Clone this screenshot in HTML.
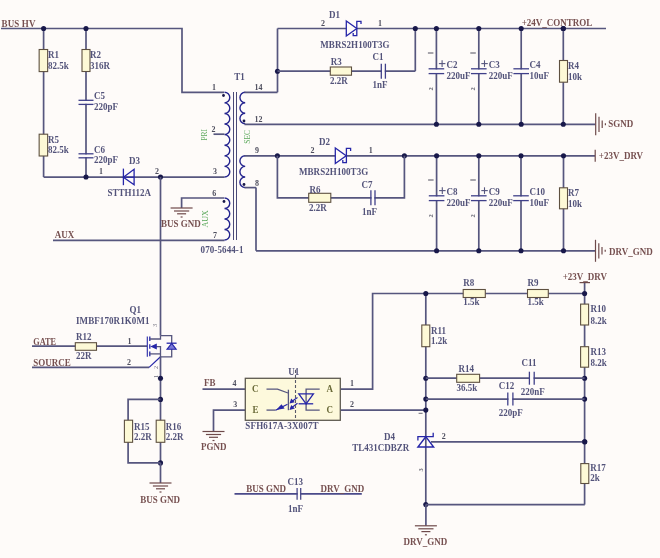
<!DOCTYPE html>
<html><head><meta charset="utf-8"><style>
html,body{margin:0;padding:0;background:#fefbf9;}
svg{display:block;font-family:"Liberation Serif",serif;font-weight:bold;filter:blur(0.5px);}
</style></head><body>
<svg width="660" height="558" viewBox="0 0 660 558">
<rect width="660" height="558" fill="#fefbf9"/>
<text x="0" y="0" transform="translate(1.5,26.6) scale(1,1.07)" fill="#765050" font-size="9" text-anchor="start" textLength="34" lengthAdjust="spacing">BUS HV</text>
<polyline points="1,28.5 182,28.5 182,92.3 224,92.3" fill="none" stroke="#56567e" stroke-width="1.7"/>
<line x1="43.6" y1="28.5" x2="43.6" y2="177" stroke="#56567e" stroke-width="1.7"/>
<line x1="86" y1="28.5" x2="86" y2="177" stroke="#56567e" stroke-width="1.7"/>
<circle cx="43.6" cy="28.5" r="2.55" fill="#18184a"/>
<circle cx="86" cy="28.5" r="2.55" fill="#18184a"/>
<rect x="39.15" y="49.5" width="8.5" height="22.099999999999994" fill="#fdf9d6" stroke="#5e5040" stroke-width="1.1"/>
<text x="0" y="0" transform="translate(48,57.5) scale(1,1.07)" fill="#53537a" font-size="9" text-anchor="start" >R1</text>
<text x="0" y="0" transform="translate(48,69) scale(1,1.07)" fill="#53537a" font-size="9" text-anchor="start" >82.5k</text>
<rect x="82.0" y="49.5" width="8" height="22.0" fill="#fdf9d6" stroke="#5e5040" stroke-width="1.1"/>
<text x="0" y="0" transform="translate(90,57.5) scale(1,1.07)" fill="#53537a" font-size="9" text-anchor="start" >R2</text>
<text x="0" y="0" transform="translate(90,69) scale(1,1.07)" fill="#53537a" font-size="9" text-anchor="start" >316R</text>
<rect x="84" y="100.89999999999999" width="4" height="2.9000000000000083" fill="#fefbf9"/>
<line x1="78.5" y1="100.3" x2="93.5" y2="100.3" stroke="#40408a" stroke-width="1.3"/>
<line x1="78.5" y1="104.4" x2="93.5" y2="104.4" stroke="#40408a" stroke-width="1.3"/>
<text x="0" y="0" transform="translate(94,99) scale(1,1.07)" fill="#53537a" font-size="9" text-anchor="start" >C5</text>
<text x="0" y="0" transform="translate(94,109.5) scale(1,1.07)" fill="#53537a" font-size="9" text-anchor="start" >220pF</text>
<rect x="39.15" y="134.2" width="8.5" height="21.80000000000001" fill="#fdf9d6" stroke="#5e5040" stroke-width="1.1"/>
<text x="0" y="0" transform="translate(48,142.5) scale(1,1.07)" fill="#53537a" font-size="9" text-anchor="start" >R5</text>
<text x="0" y="0" transform="translate(48,153) scale(1,1.07)" fill="#53537a" font-size="9" text-anchor="start" >82.5k</text>
<rect x="84" y="154.4" width="4" height="2.8" fill="#fefbf9"/>
<line x1="78.5" y1="153.8" x2="93.5" y2="153.8" stroke="#40408a" stroke-width="1.3"/>
<line x1="78.5" y1="157.8" x2="93.5" y2="157.8" stroke="#40408a" stroke-width="1.3"/>
<text x="0" y="0" transform="translate(94,152.5) scale(1,1.07)" fill="#53537a" font-size="9" text-anchor="start" >C6</text>
<text x="0" y="0" transform="translate(94,163) scale(1,1.07)" fill="#53537a" font-size="9" text-anchor="start" >220pF</text>
<line x1="43.6" y1="177.1" x2="224.5" y2="177.1" stroke="#56567e" stroke-width="1.7"/>
<circle cx="86" cy="177" r="2.55" fill="#18184a"/>
<circle cx="160.5" cy="177" r="2.55" fill="#18184a"/>
<text x="0" y="0" transform="translate(99,174) scale(1,1.07)" fill="#4e4e5e" font-size="8" text-anchor="start" >1</text>
<text x="0" y="0" transform="translate(155,174) scale(1,1.07)" fill="#4e4e5e" font-size="8" text-anchor="start" >2</text>
<polygon points="123.4,177.2 134.1,169.3 134.1,184.7" fill="none" stroke="#2626a8" stroke-width="1.3"/>
<line x1="123.4" y1="168.6" x2="123.4" y2="185.2" stroke="#2626a8" stroke-width="1.3"/>
<line x1="123.4" y1="177.2" x2="134.1" y2="177.2" stroke="#2626a8" stroke-width="1.2"/>
<text x="0" y="0" transform="translate(129,164) scale(1,1.07)" fill="#53537a" font-size="9" text-anchor="start" >D3</text>
<text x="0" y="0" transform="translate(107.5,195.5) scale(1,1.07)" fill="#53537a" font-size="9" text-anchor="start" >STTH112A</text>
<line x1="160.5" y1="177" x2="160.5" y2="335.6" stroke="#56567e" stroke-width="1.7"/>
<text x="0" y="0" transform="translate(54.8,238.3) scale(1,1.07)" fill="#765050" font-size="9" text-anchor="start" >AUX</text>
<line x1="53" y1="240.4" x2="224.5" y2="240.4" stroke="#56567e" stroke-width="1.7"/>
<polyline points="224,198 181.6,198 181.6,208" fill="none" stroke="#56567e" stroke-width="1.7"/>
<line x1="170.6" y1="208" x2="192.6" y2="208" stroke="#6e4a4a" stroke-width="1.2"/>
<line x1="174.0" y1="211" x2="189.2" y2="211" stroke="#6e4a4a" stroke-width="1.2"/>
<line x1="177.1" y1="213.8" x2="186.1" y2="213.8" stroke="#6e4a4a" stroke-width="1.2"/>
<line x1="180.6" y1="217" x2="182.6" y2="217" stroke="#6e4a4a" stroke-width="1.2"/>
<text x="0" y="0" transform="translate(161,227.2) scale(1,1.07)" fill="#765050" font-size="9" text-anchor="start" >BUS GND</text>
<path d="M224.5,92.3 a5.29375,5.29375 0 0 1 0,10.5875 a5.29375,5.29375 0 0 1 0,10.5875 a5.29375,5.29375 0 0 1 0,10.5875 a5.29375,5.29375 0 0 1 0,10.5875 a5.29375,5.29375 0 0 1 0,10.5875 a5.29375,5.29375 0 0 1 0,10.5875 a5.29375,5.29375 0 0 1 0,10.5875 a5.29375,5.29375 0 0 1 0,10.5875 " fill="none" stroke="#24248e" stroke-width="1.4"/>
<path d="M245.2,92.3 a5.25,5.25 0 0 0 0,10.5 a5.25,5.25 0 0 0 0,10.5 a5.25,5.25 0 0 0 0,10.5 " fill="none" stroke="#24248e" stroke-width="1.4"/>
<path d="M245.2,155.8 a5.299999999999997,5.299999999999997 0 0 0 0,10.599999999999994 a5.299999999999997,5.299999999999997 0 0 0 0,10.599999999999994 a5.299999999999997,5.299999999999997 0 0 0 0,10.599999999999994 " fill="none" stroke="#24248e" stroke-width="1.4"/>
<path d="M224.5,198 a5.25,5.25 0 0 1 0,10.5 a5.25,5.25 0 0 1 0,10.5 a5.25,5.25 0 0 1 0,10.5 a5.25,5.25 0 0 1 0,10.5 " fill="none" stroke="#24248e" stroke-width="1.4"/>
<line x1="233.5" y1="92" x2="233.5" y2="240" stroke="#4a4a78" stroke-width="1"/>
<line x1="236.5" y1="92" x2="236.5" y2="240" stroke="#4a4a78" stroke-width="1"/>
<circle cx="223.5" cy="95.5" r="1.4" fill="#18184a"/>
<circle cx="244" cy="121" r="1.4" fill="#18184a"/>
<circle cx="244" cy="184.5" r="1.4" fill="#18184a"/>
<circle cx="224" cy="201.5" r="1.4" fill="#18184a"/>
<text x="0" y="0" transform="translate(212,90) scale(1,1.07)" fill="#4e4e5e" font-size="8" text-anchor="start" >1</text>
<text x="0" y="0" transform="translate(211.5,132) scale(1,1.07)" fill="#4e4e5e" font-size="8" text-anchor="start" >2</text>
<text x="0" y="0" transform="translate(213,174) scale(1,1.07)" fill="#4e4e5e" font-size="8" text-anchor="start" >3</text>
<text x="0" y="0" transform="translate(212.3,196) scale(1,1.07)" fill="#4e4e5e" font-size="8" text-anchor="start" >6</text>
<text x="0" y="0" transform="translate(213,237.5) scale(1,1.07)" fill="#4e4e5e" font-size="8" text-anchor="start" >7</text>
<text x="0" y="0" transform="translate(254.5,89.5) scale(1,1.07)" fill="#4e4e5e" font-size="8" text-anchor="start" >14</text>
<text x="0" y="0" transform="translate(254.5,122) scale(1,1.07)" fill="#4e4e5e" font-size="8" text-anchor="start" >12</text>
<text x="0" y="0" transform="translate(255,152.5) scale(1,1.07)" fill="#4e4e5e" font-size="8" text-anchor="start" >9</text>
<text x="0" y="0" transform="translate(255,185.6) scale(1,1.07)" fill="#4e4e5e" font-size="8" text-anchor="start" >8</text>
<line x1="213.5" y1="134.2" x2="224.5" y2="134.2" stroke="#56567e" stroke-width="1.7"/>
<text x="0" y="0" transform="translate(234.2,80) scale(1,1.07)" fill="#53537a" font-size="9" text-anchor="start" >T1</text>
<text x="0" y="0" transform="translate(200.6,252.6) scale(1,1.07)" fill="#53537a" font-size="9" text-anchor="start" textLength="42.8" lengthAdjust="spacing">070-5644-1</text>
<text x="0" y="0" fill="#5aa85a" font-size="7.5" font-weight="normal" transform="translate(207,140.6) rotate(-90)">PRI</text>
<text x="0" y="0" fill="#5aa85a" font-size="7.5" font-weight="normal" transform="translate(249.6,143.7) rotate(-90)">SEC</text>
<text x="0" y="0" fill="#5aa85a" font-size="8" font-weight="normal" transform="translate(208.4,227.5) rotate(-90)">AUX</text>
<line x1="244.5" y1="92.3" x2="277.5" y2="92.3" stroke="#56567e" stroke-width="1.7"/>
<line x1="277.5" y1="28.5" x2="277.5" y2="92.3" stroke="#56567e" stroke-width="1.7"/>
<line x1="277.5" y1="28.5" x2="606" y2="28.5" stroke="#56567e" stroke-width="1.7"/>
<circle cx="277.5" cy="71.2" r="2.55" fill="#18184a"/>
<line x1="277.5" y1="71.2" x2="415.3" y2="71.2" stroke="#56567e" stroke-width="1.7"/>
<line x1="415.3" y1="28.5" x2="415.3" y2="71.2" stroke="#56567e" stroke-width="1.7"/>
<circle cx="415.3" cy="28.5" r="2.55" fill="#18184a"/>
<polygon points="346.3,21 346.3,36 356.8,28.5" fill="#fefbf9" stroke="#2626a8" stroke-width="1.3"/>
<polyline points="361,24 361,21.3 356.8,21.3 356.8,35.7 353.2,35.7 353.2,33" fill="none" stroke="#2626a8" stroke-width="1.3"/>
<text x="0" y="0" transform="translate(329,17.5) scale(1,1.07)" fill="#53537a" font-size="9" text-anchor="start" >D1</text>
<text x="0" y="0" transform="translate(321,26) scale(1,1.07)" fill="#4e4e5e" font-size="8" text-anchor="start" >2</text>
<text x="0" y="0" transform="translate(378,26) scale(1,1.07)" fill="#4e4e5e" font-size="8" text-anchor="start" >1</text>
<text x="0" y="0" transform="translate(320.3,47.6) scale(1,1.07)" fill="#53537a" font-size="9" text-anchor="start" textLength="69.2" lengthAdjust="spacing">MBRS2H100T3G</text>
<rect x="330.3" y="67.0" width="21.19999999999999" height="8.2" fill="#fdf9d6" stroke="#5e5040" stroke-width="1.1"/>
<text x="0" y="0" transform="translate(330.7,64.5) scale(1,1.07)" fill="#53537a" font-size="9" text-anchor="start" >R3</text>
<text x="0" y="0" transform="translate(330,83.8) scale(1,1.07)" fill="#53537a" font-size="9" text-anchor="start" >2.2R</text>
<rect x="381.90000000000003" y="69.2" width="2.8999999999999657" height="4" fill="#fefbf9"/>
<line x1="381.3" y1="63.7" x2="381.3" y2="78.7" stroke="#40408a" stroke-width="1.3"/>
<line x1="385.4" y1="63.7" x2="385.4" y2="78.7" stroke="#40408a" stroke-width="1.3"/>
<text x="0" y="0" transform="translate(372.5,60.3) scale(1,1.07)" fill="#53537a" font-size="9" text-anchor="start" >C1</text>
<text x="0" y="0" transform="translate(372.6,87.8) scale(1,1.07)" fill="#53537a" font-size="9" text-anchor="start" >1nF</text>
<line x1="244.5" y1="124.3" x2="595.5" y2="124.3" stroke="#56567e" stroke-width="1.7"/>
<line x1="436.4" y1="28.5" x2="436.4" y2="124.3" stroke="#56567e" stroke-width="1.7"/>
<circle cx="436.4" cy="28.5" r="2.55" fill="#18184a"/>
<circle cx="436.4" cy="124.3" r="2.55" fill="#18184a"/>
<line x1="478.8" y1="28.5" x2="478.8" y2="124.3" stroke="#56567e" stroke-width="1.7"/>
<circle cx="478.8" cy="28.5" r="2.55" fill="#18184a"/>
<circle cx="478.8" cy="124.3" r="2.55" fill="#18184a"/>
<line x1="521.2" y1="28.5" x2="521.2" y2="124.3" stroke="#56567e" stroke-width="1.7"/>
<circle cx="521.2" cy="28.5" r="2.55" fill="#18184a"/>
<circle cx="521.2" cy="124.3" r="2.55" fill="#18184a"/>
<line x1="563.3" y1="28.5" x2="563.3" y2="124.3" stroke="#56567e" stroke-width="1.7"/>
<circle cx="563.3" cy="28.5" r="2.55" fill="#18184a"/>
<circle cx="563.3" cy="124.3" r="2.55" fill="#18184a"/>
<circle cx="563.3" cy="28.5" r="2.55" fill="#18184a"/>
<text x="0" y="0" transform="translate(521.7,26.2) scale(1,1.07)" fill="#765050" font-size="9" text-anchor="start" >+24V_CONTROL</text>
<rect x="434.4" y="69.39999999999999" width="4" height="3.599999999999997" fill="#fefbf9"/>
<line x1="428.59999999999997" y1="68.8" x2="444.2" y2="68.8" stroke="#40408a" stroke-width="1.3"/>
<line x1="428.59999999999997" y1="73.6" x2="444.2" y2="73.6" stroke="#40408a" stroke-width="1.3"/>
<line x1="438.9" y1="63.6" x2="445.4" y2="63.6" stroke="#56567e" stroke-width="1.1"/>
<line x1="442.09999999999997" y1="60.3" x2="442.09999999999997" y2="66.9" stroke="#56567e" stroke-width="1.1"/>
<text x="0" y="0" transform="translate(446.4,68.2) scale(1,1.07)" fill="#53537a" font-size="9" text-anchor="start" >C2</text>
<text x="0" y="0" transform="translate(446.4,78.6) scale(1,1.07)" fill="#53537a" font-size="9" text-anchor="start" >220uF</text>
<line x1="427.9" y1="53" x2="433.4" y2="53" stroke="#6c6c78" stroke-width="1.2"/>
<text x="432.9" y="90.5" fill="#6c6c78" font-size="6.5" text-anchor="start" transform="rotate(-90 432.9 90.5)">2</text>
<rect x="476.8" y="69.39999999999999" width="4" height="3.599999999999997" fill="#fefbf9"/>
<line x1="471.0" y1="68.8" x2="486.6" y2="68.8" stroke="#40408a" stroke-width="1.3"/>
<line x1="471.0" y1="73.6" x2="486.6" y2="73.6" stroke="#40408a" stroke-width="1.3"/>
<line x1="481.3" y1="63.6" x2="487.8" y2="63.6" stroke="#56567e" stroke-width="1.1"/>
<line x1="484.5" y1="60.3" x2="484.5" y2="66.9" stroke="#56567e" stroke-width="1.1"/>
<text x="0" y="0" transform="translate(488.8,68.2) scale(1,1.07)" fill="#53537a" font-size="9" text-anchor="start" >C3</text>
<text x="0" y="0" transform="translate(488.8,78.6) scale(1,1.07)" fill="#53537a" font-size="9" text-anchor="start" >220uF</text>
<line x1="470.3" y1="53" x2="475.8" y2="53" stroke="#6c6c78" stroke-width="1.2"/>
<text x="475.3" y="90.5" fill="#6c6c78" font-size="6.5" text-anchor="start" transform="rotate(-90 475.3 90.5)">2</text>
<rect x="519.2" y="69.39999999999999" width="4" height="3.599999999999997" fill="#fefbf9"/>
<line x1="513.4000000000001" y1="68.8" x2="529.0" y2="68.8" stroke="#40408a" stroke-width="1.3"/>
<line x1="513.4000000000001" y1="73.6" x2="529.0" y2="73.6" stroke="#40408a" stroke-width="1.3"/>
<text x="0" y="0" transform="translate(529.5,68.2) scale(1,1.07)" fill="#53537a" font-size="9" text-anchor="start" >C4</text>
<text x="0" y="0" transform="translate(529.5,78.6) scale(1,1.07)" fill="#53537a" font-size="9" text-anchor="start" >10uF</text>
<rect x="559.5" y="60.5" width="8" height="21.700000000000003" fill="#fdf9d6" stroke="#5e5040" stroke-width="1.1"/>
<text x="0" y="0" transform="translate(568,68.8) scale(1,1.07)" fill="#53537a" font-size="9" text-anchor="start" >R4</text>
<text x="0" y="0" transform="translate(568,79.8) scale(1,1.07)" fill="#53537a" font-size="9" text-anchor="start" >10k</text>
<line x1="595.7" y1="113.3" x2="595.7" y2="135.3" stroke="#6e4a4a" stroke-width="1.2"/>
<line x1="599.0" y1="116.7" x2="599.0" y2="131.9" stroke="#6e4a4a" stroke-width="1.2"/>
<line x1="602.2" y1="120.5" x2="602.2" y2="128.1" stroke="#6e4a4a" stroke-width="1.2"/>
<line x1="605.4000000000001" y1="123.3" x2="605.4000000000001" y2="125.3" stroke="#6e4a4a" stroke-width="1.2"/>
<text x="0" y="0" transform="translate(608.2,127.3) scale(1,1.07)" fill="#765050" font-size="9" text-anchor="start" >SGND</text>
<line x1="244.5" y1="187.6" x2="256" y2="187.6" stroke="#56567e" stroke-width="1.7"/>
<line x1="256" y1="187.6" x2="256" y2="250.8" stroke="#56567e" stroke-width="1.7"/>
<line x1="256" y1="250.8" x2="595.5" y2="250.8" stroke="#56567e" stroke-width="1.7"/>
<line x1="244.5" y1="155.8" x2="595" y2="155.8" stroke="#56567e" stroke-width="1.7"/>
<circle cx="277.4" cy="155.8" r="2.55" fill="#18184a"/>
<circle cx="404.4" cy="155.8" r="2.55" fill="#18184a"/>
<polyline points="277.4,155.8 277.4,197.8 404.4,197.8 404.4,155.8" fill="none" stroke="#56567e" stroke-width="1.7"/>
<polygon points="335.3,148 335.3,163.5 346.2,155.8" fill="#fefbf9" stroke="#2626a8" stroke-width="1.3"/>
<polyline points="350.6,151 350.6,148.3 346.4,148.3 346.4,162.7 342.8,162.7 342.8,160" fill="none" stroke="#2626a8" stroke-width="1.3"/>
<text x="0" y="0" transform="translate(319,144.6) scale(1,1.07)" fill="#53537a" font-size="9" text-anchor="start" >D2</text>
<text x="0" y="0" transform="translate(310.4,152.8) scale(1,1.07)" fill="#4e4e5e" font-size="8" text-anchor="start" >2</text>
<text x="0" y="0" transform="translate(368.7,152.8) scale(1,1.07)" fill="#4e4e5e" font-size="8" text-anchor="start" >1</text>
<text x="0" y="0" transform="translate(298.9,174.6) scale(1,1.07)" fill="#53537a" font-size="9" text-anchor="start" textLength="69.4" lengthAdjust="spacing">MBRS2H100T3G</text>
<rect x="308.7" y="193.3" width="22.100000000000023" height="9" fill="#fdf9d6" stroke="#5e5040" stroke-width="1.1"/>
<text x="0" y="0" transform="translate(309.5,192.6) scale(1,1.07)" fill="#53537a" font-size="9" text-anchor="start" >R6</text>
<text x="0" y="0" transform="translate(309,210.8) scale(1,1.07)" fill="#53537a" font-size="9" text-anchor="start" >2.2R</text>
<rect x="371.5" y="195.8" width="2.9000000000000226" height="4" fill="#fefbf9"/>
<line x1="370.9" y1="190.3" x2="370.9" y2="205.3" stroke="#40408a" stroke-width="1.3"/>
<line x1="375" y1="190.3" x2="375" y2="205.3" stroke="#40408a" stroke-width="1.3"/>
<text x="0" y="0" transform="translate(361.4,188.4) scale(1,1.07)" fill="#53537a" font-size="9" text-anchor="start" >C7</text>
<text x="0" y="0" transform="translate(362,215) scale(1,1.07)" fill="#53537a" font-size="9" text-anchor="start" >1nF</text>
<line x1="436.6" y1="155.8" x2="436.6" y2="250.8" stroke="#56567e" stroke-width="1.7"/>
<circle cx="436.6" cy="155.8" r="2.55" fill="#18184a"/>
<circle cx="436.6" cy="250.8" r="2.55" fill="#18184a"/>
<line x1="478.8" y1="155.8" x2="478.8" y2="250.8" stroke="#56567e" stroke-width="1.7"/>
<circle cx="478.8" cy="155.8" r="2.55" fill="#18184a"/>
<circle cx="478.8" cy="250.8" r="2.55" fill="#18184a"/>
<line x1="521" y1="155.8" x2="521" y2="250.8" stroke="#56567e" stroke-width="1.7"/>
<circle cx="521" cy="155.8" r="2.55" fill="#18184a"/>
<circle cx="521" cy="250.8" r="2.55" fill="#18184a"/>
<line x1="563.5" y1="155.8" x2="563.5" y2="250.8" stroke="#56567e" stroke-width="1.7"/>
<circle cx="563.5" cy="155.8" r="2.55" fill="#18184a"/>
<circle cx="563.5" cy="250.8" r="2.55" fill="#18184a"/>
<rect x="434.6" y="196.4" width="4" height="3.5999999999999828" fill="#fefbf9"/>
<line x1="428.8" y1="195.8" x2="444.40000000000003" y2="195.8" stroke="#40408a" stroke-width="1.3"/>
<line x1="428.8" y1="200.6" x2="444.40000000000003" y2="200.6" stroke="#40408a" stroke-width="1.3"/>
<line x1="439.1" y1="190.6" x2="445.6" y2="190.6" stroke="#56567e" stroke-width="1.1"/>
<line x1="442.3" y1="187.3" x2="442.3" y2="193.9" stroke="#56567e" stroke-width="1.1"/>
<text x="0" y="0" transform="translate(446.6,195.2) scale(1,1.07)" fill="#53537a" font-size="9" text-anchor="start" >C8</text>
<text x="0" y="0" transform="translate(446.6,205.6) scale(1,1.07)" fill="#53537a" font-size="9" text-anchor="start" >220uF</text>
<line x1="428.1" y1="180" x2="433.6" y2="180" stroke="#6c6c78" stroke-width="1.2"/>
<text x="433.1" y="217.5" fill="#6c6c78" font-size="6.5" text-anchor="start" transform="rotate(-90 433.1 217.5)">2</text>
<rect x="476.8" y="196.4" width="4" height="3.5999999999999828" fill="#fefbf9"/>
<line x1="471.0" y1="195.8" x2="486.6" y2="195.8" stroke="#40408a" stroke-width="1.3"/>
<line x1="471.0" y1="200.6" x2="486.6" y2="200.6" stroke="#40408a" stroke-width="1.3"/>
<line x1="481.3" y1="190.6" x2="487.8" y2="190.6" stroke="#56567e" stroke-width="1.1"/>
<line x1="484.5" y1="187.3" x2="484.5" y2="193.9" stroke="#56567e" stroke-width="1.1"/>
<text x="0" y="0" transform="translate(488.8,195.2) scale(1,1.07)" fill="#53537a" font-size="9" text-anchor="start" >C9</text>
<text x="0" y="0" transform="translate(488.8,205.6) scale(1,1.07)" fill="#53537a" font-size="9" text-anchor="start" >220uF</text>
<line x1="470.3" y1="180" x2="475.8" y2="180" stroke="#6c6c78" stroke-width="1.2"/>
<text x="475.3" y="217.5" fill="#6c6c78" font-size="6.5" text-anchor="start" transform="rotate(-90 475.3 217.5)">2</text>
<rect x="519" y="196.4" width="4" height="3.5999999999999828" fill="#fefbf9"/>
<line x1="513.2" y1="195.8" x2="528.8" y2="195.8" stroke="#40408a" stroke-width="1.3"/>
<line x1="513.2" y1="200.6" x2="528.8" y2="200.6" stroke="#40408a" stroke-width="1.3"/>
<text x="0" y="0" transform="translate(529.5,195.2) scale(1,1.07)" fill="#53537a" font-size="9" text-anchor="start" >C10</text>
<text x="0" y="0" transform="translate(529.5,205.6) scale(1,1.07)" fill="#53537a" font-size="9" text-anchor="start" >10uF</text>
<rect x="559.5" y="187.8" width="8" height="21.0" fill="#fdf9d6" stroke="#5e5040" stroke-width="1.1"/>
<text x="0" y="0" transform="translate(568,195.8) scale(1,1.07)" fill="#53537a" font-size="9" text-anchor="start" >R7</text>
<text x="0" y="0" transform="translate(568,206.7) scale(1,1.07)" fill="#53537a" font-size="9" text-anchor="start" >10k</text>
<line x1="595.2" y1="149.7" x2="595.2" y2="161.8" stroke="#6e4a4a" stroke-width="1.2"/>
<text x="0" y="0" transform="translate(598.8,159.4) scale(1,1.07)" fill="#765050" font-size="9" text-anchor="start" >+23V_DRV</text>
<line x1="595.5" y1="239.8" x2="595.5" y2="261.8" stroke="#6e4a4a" stroke-width="1.2"/>
<line x1="598.8" y1="243.20000000000002" x2="598.8" y2="258.40000000000003" stroke="#6e4a4a" stroke-width="1.2"/>
<line x1="602.0" y1="247.0" x2="602.0" y2="254.60000000000002" stroke="#6e4a4a" stroke-width="1.2"/>
<line x1="605.2" y1="249.8" x2="605.2" y2="251.8" stroke="#6e4a4a" stroke-width="1.2"/>
<text x="0" y="0" transform="translate(609.1,254.8) scale(1,1.07)" fill="#765050" font-size="9" text-anchor="start" >DRV_GND</text>
<text x="0" y="0" transform="translate(33.3,344.9) scale(1,1.07)" fill="#765050" font-size="9" text-anchor="start" textLength="22.8" lengthAdjust="spacingAndGlyphs">GATE</text>
<line x1="32" y1="346.2" x2="147" y2="346.2" stroke="#56567e" stroke-width="1.7"/>
<rect x="75.3" y="342.7" width="21.200000000000003" height="7.6" fill="#fdf9d6" stroke="#5e5040" stroke-width="1.1"/>
<text x="0" y="0" transform="translate(76,340.2) scale(1,1.07)" fill="#53537a" font-size="9" text-anchor="start" >R12</text>
<text x="0" y="0" transform="translate(76,359.4) scale(1,1.07)" fill="#53537a" font-size="9" text-anchor="start" >22R</text>
<text x="0" y="0" transform="translate(33.3,365.5) scale(1,1.07)" fill="#765050" font-size="9" text-anchor="start" >SOURCE</text>
<line x1="32" y1="367.4" x2="149.1" y2="367.4" stroke="#56567e" stroke-width="1.7"/>
<line x1="149.1" y1="367.4" x2="160.5" y2="356.8" stroke="#2626a8" stroke-width="1.2"/>
<text x="0" y="0" transform="translate(127.4,343.7) scale(1,1.07)" fill="#4e4e5e" font-size="8" text-anchor="start" >1</text>
<text x="0" y="0" transform="translate(126.9,365.2) scale(1,1.07)" fill="#4e4e5e" font-size="8" text-anchor="start" >2</text>
<text x="0" y="0" transform="translate(129.4,313.2) scale(1,1.07)" fill="#53537a" font-size="9" text-anchor="start" >Q1</text>
<text x="0" y="0" transform="translate(76,323.8) scale(1,1.07)" fill="#53537a" font-size="9" text-anchor="start" textLength="73.5" lengthAdjust="spacing">IMBF170R1K0M1</text>
<line x1="147.3" y1="336.5" x2="147.3" y2="356.7" stroke="#2626a8" stroke-width="1.1"/>
<line x1="149.8" y1="336.5" x2="149.8" y2="341.1" stroke="#2626a8" stroke-width="1.3"/>
<line x1="149.8" y1="344.2" x2="149.8" y2="348.7" stroke="#2626a8" stroke-width="1.3"/>
<line x1="149.8" y1="351.5" x2="149.8" y2="356.2" stroke="#2626a8" stroke-width="1.3"/>
<polyline points="149.8,339 160.5,339 160.5,335.6" fill="none" stroke="#56567e" stroke-width="1.3"/>
<polyline points="156,346.6 160.5,346.6 160.5,357" fill="none" stroke="#56567e" stroke-width="1.3"/>
<line x1="149.8" y1="353.9" x2="160.5" y2="353.9" stroke="#56567e" stroke-width="1.3"/>
<polygon points="150.2,346.6 156.8,343.6 156.8,349.6" fill="#2626a8"/>
<polyline points="160.5,335.6 171.7,335.6 171.7,356.8 160.5,356.8" fill="none" stroke="#56567e" stroke-width="1.3"/>
<polygon points="171.7,343.4 167,349.3 176.2,349.3" fill="#7a7ad8" stroke="#2626a8" stroke-width="1.1"/>
<line x1="166.6" y1="343.2" x2="176.6" y2="343.2" stroke="#2626a8" stroke-width="1.3"/>
<line x1="160.5" y1="356.8" x2="160.5" y2="462.9" stroke="#56567e" stroke-width="1.7"/>
<circle cx="160.5" cy="378.3" r="2.55" fill="#18184a"/>
<circle cx="160.5" cy="399.4" r="2.55" fill="#18184a"/>
<circle cx="160.5" cy="462.9" r="2.55" fill="#18184a"/>
<polyline points="160.5,399.4 128.1,399.4 128.1,462.9 160.5,462.9" fill="none" stroke="#56567e" stroke-width="1.7"/>
<rect x="124.4" y="420.2" width="8.2" height="22.100000000000023" fill="#fdf9d6" stroke="#5e5040" stroke-width="1.1"/>
<text x="0" y="0" transform="translate(133.9,429.5) scale(1,1.07)" fill="#53537a" font-size="9" text-anchor="start" >R15</text>
<text x="0" y="0" transform="translate(133.9,439.8) scale(1,1.07)" fill="#53537a" font-size="9" text-anchor="start" >2.2R</text>
<rect x="156.2" y="420.2" width="8.6" height="22.100000000000023" fill="#fdf9d6" stroke="#5e5040" stroke-width="1.1"/>
<text x="0" y="0" transform="translate(165.8,429.5) scale(1,1.07)" fill="#53537a" font-size="9" text-anchor="start" >R16</text>
<text x="0" y="0" transform="translate(165.8,439.8) scale(1,1.07)" fill="#53537a" font-size="9" text-anchor="start" >2.2R</text>
<line x1="160.5" y1="462.9" x2="160.5" y2="483" stroke="#56567e" stroke-width="1.7"/>
<line x1="149.5" y1="483" x2="171.5" y2="483" stroke="#6e4a4a" stroke-width="1.2"/>
<line x1="152.9" y1="486" x2="168.1" y2="486" stroke="#6e4a4a" stroke-width="1.2"/>
<line x1="156.0" y1="488.8" x2="165.0" y2="488.8" stroke="#6e4a4a" stroke-width="1.2"/>
<line x1="159.5" y1="492" x2="161.5" y2="492" stroke="#6e4a4a" stroke-width="1.2"/>
<text x="0" y="0" transform="translate(140.2,502.6) scale(1,1.07)" fill="#765050" font-size="9" text-anchor="start" >BUS GND</text>
<text x="0" y="0" fill="#70707e" font-size="6.2" font-weight="normal" transform="translate(157,327) rotate(-90)">3</text>
<text x="0" y="0" fill="#70707e" font-size="6.2" font-weight="normal" transform="translate(157.5,369) rotate(-90)">2</text>
<text x="0" y="0" fill="#70707e" font-size="6.2" font-weight="normal" transform="translate(157.5,378) rotate(-90)">1</text>
<text x="0" y="0" transform="translate(203.9,386.4) scale(1,1.07)" fill="#765050" font-size="9" text-anchor="start" >FB</text>
<line x1="202.5" y1="389.1" x2="245.3" y2="389.1" stroke="#56567e" stroke-width="1.7"/>
<text x="0" y="0" transform="translate(232.4,386.3) scale(1,1.07)" fill="#4e4e5e" font-size="8" text-anchor="start" >4</text>
<text x="0" y="0" transform="translate(233.2,407.4) scale(1,1.07)" fill="#4e4e5e" font-size="8" text-anchor="start" >3</text>
<polyline points="245.3,410.1 213.5,410.1 213.5,431.4" fill="none" stroke="#56567e" stroke-width="1.7"/>
<line x1="202.5" y1="431.5" x2="224.5" y2="431.5" stroke="#6e4a4a" stroke-width="1.2"/>
<line x1="205.9" y1="434.5" x2="221.1" y2="434.5" stroke="#6e4a4a" stroke-width="1.2"/>
<line x1="209.0" y1="437.3" x2="218.0" y2="437.3" stroke="#6e4a4a" stroke-width="1.2"/>
<line x1="212.5" y1="440.5" x2="214.5" y2="440.5" stroke="#6e4a4a" stroke-width="1.2"/>
<text x="0" y="0" transform="translate(201,450) scale(1,1.07)" fill="#765050" font-size="9" text-anchor="start" >PGND</text>
<rect x="245.3" y="378.3" width="95" height="42" fill="#fdf9dc" stroke="#5e5a50" stroke-width="1.3"/>
<text x="0" y="0" transform="translate(252,392) scale(1,1.07)" fill="#6a6a38" font-size="9" text-anchor="start" >C</text>
<text x="0" y="0" transform="translate(252.5,413) scale(1,1.07)" fill="#6a6a38" font-size="9" text-anchor="start" >E</text>
<text x="0" y="0" transform="translate(326.5,392) scale(1,1.07)" fill="#6a6a38" font-size="9" text-anchor="start" >A</text>
<text x="0" y="0" transform="translate(326.5,413) scale(1,1.07)" fill="#6a6a38" font-size="9" text-anchor="start" >C</text>
<text x="0" y="0" transform="translate(288.3,375.3) scale(1,1.07)" fill="#53537a" font-size="9" text-anchor="start" >U1</text>
<text x="0" y="0" transform="translate(245.3,429.2) scale(1,1.07)" fill="#53537a" font-size="9" text-anchor="start" textLength="73.3" lengthAdjust="spacing">SFH617A-3X007T</text>
<polyline points="266.5,389.1 277.5,389.1 288,393" fill="none" stroke="#56567e" stroke-width="1.3"/>
<line x1="288.4" y1="389.7" x2="288.4" y2="410.2" stroke="#56567e" stroke-width="1.3"/>
<line x1="266.5" y1="410.1" x2="275.6" y2="410.1" stroke="#56567e" stroke-width="1.3"/>
<line x1="275.6" y1="410.2" x2="287.5" y2="404.3" stroke="#2626a8" stroke-width="1.2"/>
<polygon points="276,410 281.5,404.2 284.6,408.4" fill="#2626a8"/>
<line x1="290.6" y1="402.2" x2="297.5" y2="397.5" stroke="#2626a8" stroke-width="1.2"/>
<line x1="290.6" y1="408.6" x2="297.5" y2="403.3" stroke="#2626a8" stroke-width="1.2"/>
<polygon points="289.5,403.6 291.2,398.6 294.8,402.2" fill="#2626a8"/>
<polygon points="289.5,410 291.2,405 294.8,408.6" fill="#2626a8"/>
<line x1="295.5" y1="370" x2="295.5" y2="420.3" stroke="#5a5a6a" stroke-width="1.1" stroke-dasharray="3,2"/>
<polyline points="319.7,389.1 306.1,389.1 306.1,410.1 319.7,410.1" fill="none" stroke="#56567e" stroke-width="1.3"/>
<polygon points="298.8,393.8 313.4,393.8 306.1,403.8" fill="none" stroke="#2626a8" stroke-width="1.3"/>
<line x1="298.6" y1="403.8" x2="313.2" y2="403.8" stroke="#2626a8" stroke-width="1.3"/>
<text x="0" y="0" transform="translate(349.9,386) scale(1,1.07)" fill="#4e4e5e" font-size="8" text-anchor="start" >1</text>
<text x="0" y="0" transform="translate(349.9,407.2) scale(1,1.07)" fill="#4e4e5e" font-size="8" text-anchor="start" >2</text>
<polyline points="340.8,389.1 372.6,389.1 372.6,293.5 584.6,293.5" fill="none" stroke="#56567e" stroke-width="1.7"/>
<line x1="340.8" y1="410.1" x2="425.8" y2="410.1" stroke="#56567e" stroke-width="1.7"/>
<line x1="425.8" y1="293.5" x2="425.8" y2="504.6" stroke="#56567e" stroke-width="1.7"/>
<line x1="584.6" y1="282.6" x2="584.6" y2="504.6" stroke="#56567e" stroke-width="1.7"/>
<line x1="579.5" y1="282.6" x2="590" y2="282.6" stroke="#6e4a4a" stroke-width="1.2"/>
<text x="0" y="0" transform="translate(562.7,280.2) scale(1,1.07)" fill="#765050" font-size="9" text-anchor="start" >+23V_DRV</text>
<circle cx="425.8" cy="293.5" r="2.55" fill="#18184a"/>
<circle cx="584.6" cy="293.5" r="2.55" fill="#18184a"/>
<circle cx="425.8" cy="378.2" r="2.55" fill="#18184a"/>
<circle cx="584.6" cy="378.2" r="2.55" fill="#18184a"/>
<circle cx="425.8" cy="399.1" r="2.55" fill="#18184a"/>
<circle cx="584.6" cy="399.1" r="2.55" fill="#18184a"/>
<circle cx="425.8" cy="410.1" r="2.55" fill="#18184a"/>
<circle cx="584.6" cy="441.8" r="2.55" fill="#18184a"/>
<circle cx="425.8" cy="504.6" r="2.55" fill="#18184a"/>
<rect x="463.2" y="289.5" width="22.100000000000023" height="8" fill="#fdf9d6" stroke="#5e5040" stroke-width="1.1"/>
<text x="0" y="0" transform="translate(463.2,285.6) scale(1,1.07)" fill="#53537a" font-size="9" text-anchor="start" >R8</text>
<text x="0" y="0" transform="translate(463.2,305.3) scale(1,1.07)" fill="#53537a" font-size="9" text-anchor="start" >1.5k</text>
<rect x="527.5" y="289.5" width="20.799999999999955" height="8" fill="#fdf9d6" stroke="#5e5040" stroke-width="1.1"/>
<text x="0" y="0" transform="translate(527.5,285.6) scale(1,1.07)" fill="#53537a" font-size="9" text-anchor="start" >R9</text>
<text x="0" y="0" transform="translate(527.5,305.3) scale(1,1.07)" fill="#53537a" font-size="9" text-anchor="start" >1.5k</text>
<rect x="580.6" y="304.1" width="8" height="20.899999999999977" fill="#fdf9d6" stroke="#5e5040" stroke-width="1.1"/>
<text x="0" y="0" transform="translate(590.5,312.2) scale(1,1.07)" fill="#53537a" font-size="9" text-anchor="start" >R10</text>
<text x="0" y="0" transform="translate(590.5,323.5) scale(1,1.07)" fill="#53537a" font-size="9" text-anchor="start" >8.2k</text>
<rect x="580.6" y="346.7" width="8" height="20.5" fill="#fdf9d6" stroke="#5e5040" stroke-width="1.1"/>
<text x="0" y="0" transform="translate(590.5,354.8) scale(1,1.07)" fill="#53537a" font-size="9" text-anchor="start" >R13</text>
<text x="0" y="0" transform="translate(590.5,365.7) scale(1,1.07)" fill="#53537a" font-size="9" text-anchor="start" >8.2k</text>
<rect x="421.8" y="325" width="8" height="21.69999999999999" fill="#fdf9d6" stroke="#5e5040" stroke-width="1.1"/>
<text x="0" y="0" transform="translate(430.9,334) scale(1,1.07)" fill="#53537a" font-size="9" text-anchor="start" >R11</text>
<text x="0" y="0" transform="translate(430.9,343.9) scale(1,1.07)" fill="#53537a" font-size="9" text-anchor="start" >1.2k</text>
<line x1="425.8" y1="378.2" x2="584.6" y2="378.2" stroke="#56567e" stroke-width="1.7"/>
<rect x="456.7" y="374.3" width="22.900000000000034" height="8" fill="#fdf9d6" stroke="#5e5040" stroke-width="1.1"/>
<text x="0" y="0" transform="translate(458.5,371.9) scale(1,1.07)" fill="#53537a" font-size="9" text-anchor="start" >R14</text>
<text x="0" y="0" transform="translate(456.5,391.2) scale(1,1.07)" fill="#53537a" font-size="9" text-anchor="start" >36.5k</text>
<rect x="530.0" y="376.2" width="3.600000000000068" height="4" fill="#fefbf9"/>
<line x1="529.4" y1="371.7" x2="529.4" y2="384.7" stroke="#40408a" stroke-width="1.3"/>
<line x1="534.2" y1="371.7" x2="534.2" y2="384.7" stroke="#40408a" stroke-width="1.3"/>
<text x="0" y="0" transform="translate(521.5,365.6) scale(1,1.07)" fill="#53537a" font-size="9" text-anchor="start" >C11</text>
<text x="0" y="0" transform="translate(520.8,394.8) scale(1,1.07)" fill="#53537a" font-size="9" text-anchor="start" >220nF</text>
<line x1="425.8" y1="399.1" x2="584.6" y2="399.1" stroke="#56567e" stroke-width="1.7"/>
<rect x="508.40000000000003" y="397.1" width="3.8999999999999657" height="4" fill="#fefbf9"/>
<line x1="507.8" y1="392.6" x2="507.8" y2="405.6" stroke="#40408a" stroke-width="1.3"/>
<line x1="512.9" y1="392.6" x2="512.9" y2="405.6" stroke="#40408a" stroke-width="1.3"/>
<text x="0" y="0" transform="translate(498.7,389) scale(1,1.07)" fill="#53537a" font-size="9" text-anchor="start" >C12</text>
<text x="0" y="0" transform="translate(498.7,415.9) scale(1,1.07)" fill="#53537a" font-size="9" text-anchor="start" >220pF</text>
<line x1="431" y1="441.8" x2="584.8" y2="441.8" stroke="#56567e" stroke-width="1.7"/>
<polygon points="417.9,447 433.6,447 425.8,436.7" fill="none" stroke="#2626a8" stroke-width="1.4"/>
<polyline points="417.9,440.4 417.9,436.7 433.2,436.7 433.2,432.7" fill="none" stroke="#2626a8" stroke-width="1.3"/>
<text x="0" y="0" transform="translate(441.8,438.8) scale(1,1.07)" fill="#4e4e5e" font-size="8" text-anchor="start" >2</text>
<line x1="418.6" y1="413.3" x2="422.6" y2="413.3" stroke="#6a6a76" stroke-width="1"/>
<text x="0" y="0" fill="#6a6a76" font-size="6.5" transform="translate(422.5,471.5) rotate(-90)">3</text>
<text x="0" y="0" transform="translate(383.9,439.6) scale(1,1.07)" fill="#53537a" font-size="9" text-anchor="start" >D4</text>
<text x="0" y="0" transform="translate(352.2,451.3) scale(1,1.07)" fill="#53537a" font-size="9" text-anchor="start" >TL431CDBZR</text>
<circle cx="584.8" cy="441.8" r="2.55" fill="#18184a"/>
<rect x="580.8" y="463.6" width="8" height="19.899999999999977" fill="#fdf9d6" stroke="#5e5040" stroke-width="1.1"/>
<text x="0" y="0" transform="translate(590.3,470.6) scale(1,1.07)" fill="#53537a" font-size="9" text-anchor="start" >R17</text>
<text x="0" y="0" transform="translate(590.3,481.2) scale(1,1.07)" fill="#53537a" font-size="9" text-anchor="start" >2k</text>
<line x1="425.8" y1="504.6" x2="584.8" y2="504.6" stroke="#56567e" stroke-width="1.7"/>
<line x1="425.9" y1="504.6" x2="425.9" y2="525.8" stroke="#56567e" stroke-width="1.7"/>
<line x1="414.9" y1="525.8" x2="436.9" y2="525.8" stroke="#6e4a4a" stroke-width="1.2"/>
<line x1="418.29999999999995" y1="528.8" x2="433.5" y2="528.8" stroke="#6e4a4a" stroke-width="1.2"/>
<line x1="421.4" y1="531.5999999999999" x2="430.4" y2="531.5999999999999" stroke="#6e4a4a" stroke-width="1.2"/>
<line x1="424.9" y1="534.8" x2="426.9" y2="534.8" stroke="#6e4a4a" stroke-width="1.2"/>
<text x="0" y="0" transform="translate(403.6,544.9) scale(1,1.07)" fill="#765050" font-size="9" text-anchor="start" >DRV_GND</text>
<line x1="234.5" y1="493.9" x2="361.8" y2="493.9" stroke="#4a4a8a" stroke-width="1.7"/>
<rect x="297.70000000000005" y="491.9" width="2.3999999999999657" height="4" fill="#fefbf9"/>
<line x1="297.1" y1="488.09999999999997" x2="297.1" y2="499.7" stroke="#4a4a8a" stroke-width="1.3"/>
<line x1="300.7" y1="488.09999999999997" x2="300.7" y2="499.7" stroke="#4a4a8a" stroke-width="1.3"/>
<text x="0" y="0" transform="translate(287.6,484.5) scale(1,1.07)" fill="#53537a" font-size="9" text-anchor="start" >C13</text>
<text x="0" y="0" transform="translate(287.9,512.1) scale(1,1.07)" fill="#53537a" font-size="9" text-anchor="start" >1nF</text>
<text x="0" y="0" transform="translate(246.2,492.2) scale(1,1.07)" fill="#765050" font-size="9" text-anchor="start" >BUS GND</text>
<text x="0" y="0" transform="translate(320.6,492.2) scale(1,1.07)" fill="#765050" font-size="9" text-anchor="start" >DRV_GND</text>
</svg>
</body></html>
